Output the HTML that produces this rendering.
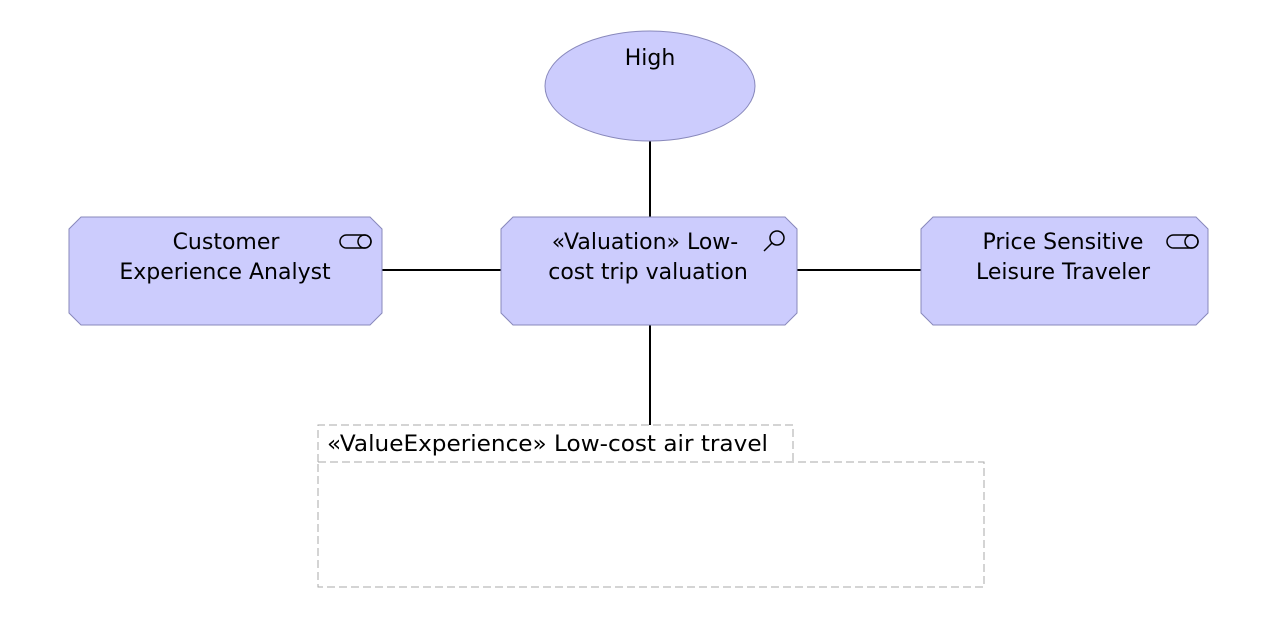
<!DOCTYPE html>
<html><head><style>body{margin:0;background:#fff}svg{display:block}</style></head><body>
<svg width="1261" height="635" xmlns="http://www.w3.org/2000/svg" font-family="'DejaVu Sans', sans-serif" font-size="22">
<g stroke="#000" stroke-width="2">
<line x1="650" y1="141" x2="650" y2="217"/>
<line x1="382" y1="270" x2="501" y2="270"/>
<line x1="797" y1="270" x2="921" y2="270"/>
<line x1="650" y1="325" x2="650" y2="425"/>
</g>
<ellipse cx="650" cy="86" rx="105" ry="55" fill="#ccccfd" stroke="#8888bb"/>
<text x="650" y="65" text-anchor="middle">High</text>
<g fill="#ccccfd" stroke="#8888bb">
<polygon points="81,217 370,217 382,229 382,313 370,325 81,325 69,313 69,229"/>
<polygon points="513,217 785,217 797,229 797,313 785,325 513,325 501,313 501,229"/>
<polygon points="933,217 1196,217 1208,229 1208,313 1196,325 933,325 921,313 921,229"/>
</g>
<text text-anchor="middle"><tspan x="226" y="249">Customer</tspan><tspan x="225" y="279">Experience Analyst</tspan></text>
<text text-anchor="middle"><tspan x="645" y="249">«Valuation» Low-</tspan><tspan x="648" y="279">cost trip valuation</tspan></text>
<text text-anchor="middle"><tspan x="1063" y="249">Price Sensitive</tspan><tspan x="1063" y="279">Leisure Traveler</tspan></text>
<g fill="none" stroke="#000" stroke-width="1.5">
<rect x="340" y="235" width="31" height="13" rx="6.5"/>
<circle cx="364.5" cy="241.5" r="6.5"/>
<rect x="1167" y="235" width="31" height="13" rx="6.5"/>
<circle cx="1191.5" cy="241.5" r="6.5"/>
<circle cx="777" cy="238" r="7"/>
<line x1="772" y1="243" x2="764" y2="251"/>
</g>
<g fill="none" stroke="#aaa" stroke-dasharray="8,4">
<path d="M318,462 V425 H793 V462"/>
<rect x="318" y="462" width="666" height="125"/>
</g>
<text x="327" y="451" textLength="441" lengthAdjust="spacingAndGlyphs">«ValueExperience» Low-cost air travel</text>
</svg>
</body></html>
